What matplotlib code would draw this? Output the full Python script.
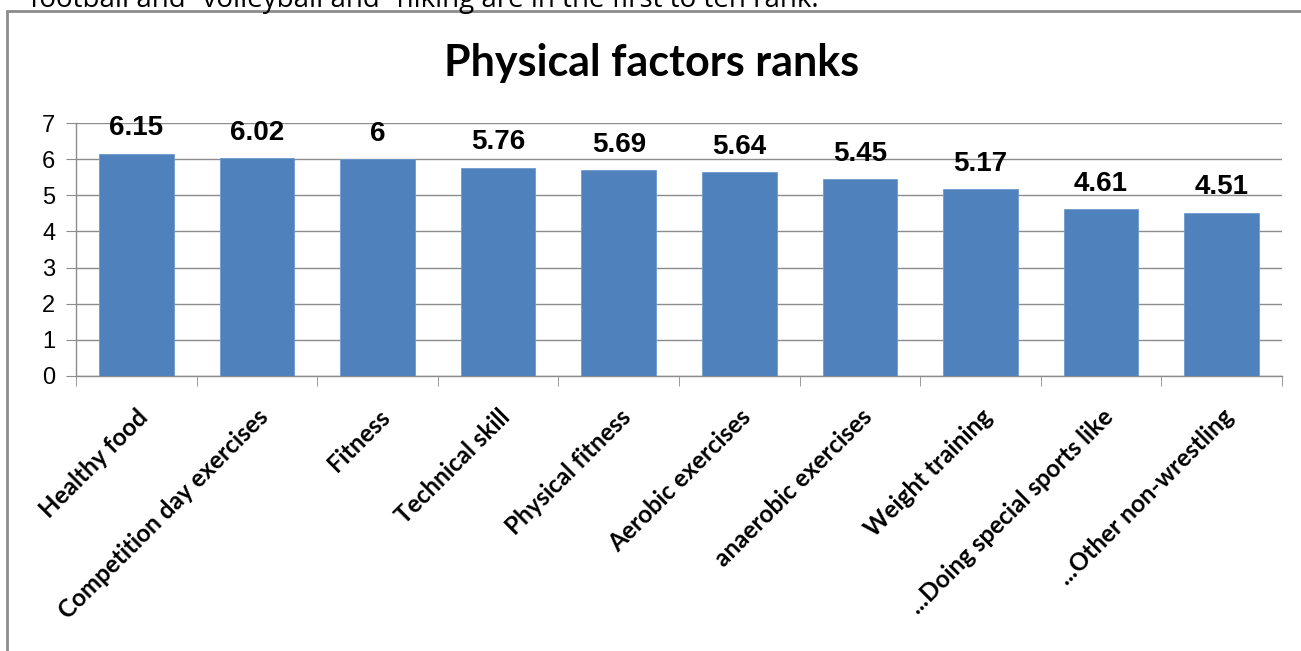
import matplotlib
matplotlib.use("Agg")
import matplotlib.pyplot as plt
from matplotlib.patches import Rectangle

categories = ["Healthy food", "Competition day exercises", "Fitness", "Technical skill",
              "Physical fitness", "Aerobic exercises", "anaerobic exercises",
              "Weight training", "...Doing special sports like", "...Other non-wrestling"]
values = [6.15, 6.02, 6, 5.76, 5.69, 5.64, 5.45, 5.17, 4.61, 4.51]
value_labels = ["6.15", "6.02", "6", "5.76", "5.69", "5.64", "5.45", "5.17", "4.61", "4.51"]
yticks = [0, 1, 2, 3, 4, 5, 6, 7]
title = "Physical factors ranks"
top_text = "football and \u201cvolleyball and \u201chiking are in the first to ten rank."

W, H = 1301, 651
fig = plt.figure(figsize=(W / 100, H / 100), dpi=100)
fig.patch.set_facecolor("white")

# outer chart border
fig.add_artist(Rectangle((7 / W, -0.1), 1.2, (H - 11) / H + 0.1, transform=fig.transFigure,
                         fill=False, edgecolor="#8c8c8c", linewidth=2))

# cropped text line at top (partly cut off, as in the source page)
fig.text(30 / W, (H - 7) / H, top_text, fontsize=20, family="Open Sans",
         va="baseline", ha="left", color="black")

ax = fig.add_axes([76 / W, (H - 376) / H, (1282 - 76) / W, (376 - 123) / H])
x = list(range(len(categories)))
ax.bar(x, values, width=0.62, color="#4F81BD", edgecolor="#6f9ad0", linewidth=0.6, zorder=3)

ax.set_xlim(-0.5, len(categories) - 0.5)
ax.set_ylim(0, 7)
ax.set_yticks(yticks)
ax.set_yticklabels([str(t) for t in yticks], fontsize=17, family="Liberation Sans")
ax.yaxis.grid(True, color="#8c8c8c", linewidth=1, zorder=0)
ax.set_axisbelow(True)

for s in ["top", "right"]:
    ax.spines[s].set_visible(False)
for s in ["left", "bottom"]:
    ax.spines[s].set_color("#8c8c8c")
    ax.spines[s].set_linewidth(1)

ax.tick_params(axis="y", length=7, color="#8c8c8c", pad=8, direction="out")
ax.set_xticks(x)
ax.set_xticklabels(categories, rotation=45, ha="right", va="top", rotation_mode="anchor",
                   fontsize=17.5, family="Lato", fontweight="bold")
ax.tick_params(axis="x", which="major", length=0, pad=21)
ax.set_xticks([i - 0.5 for i in range(len(categories) + 1)], minor=True)
ax.tick_params(axis="x", which="minor", length=7, color="#8c8c8c", direction="out")

for xi, v, lab in zip(x, values, value_labels):
    ax.annotate(lab, (xi, v), xytext=(0, 9), textcoords="offset points",
                ha="center", va="bottom", fontsize=20, fontweight="bold",
                family="Liberation Sans")

fig.text(652 / W, (H - 63) / H, title, fontsize=31, fontweight="bold", family="Lato",
         ha="center", va="center")

fig.savefig("out.png", dpi=100)
